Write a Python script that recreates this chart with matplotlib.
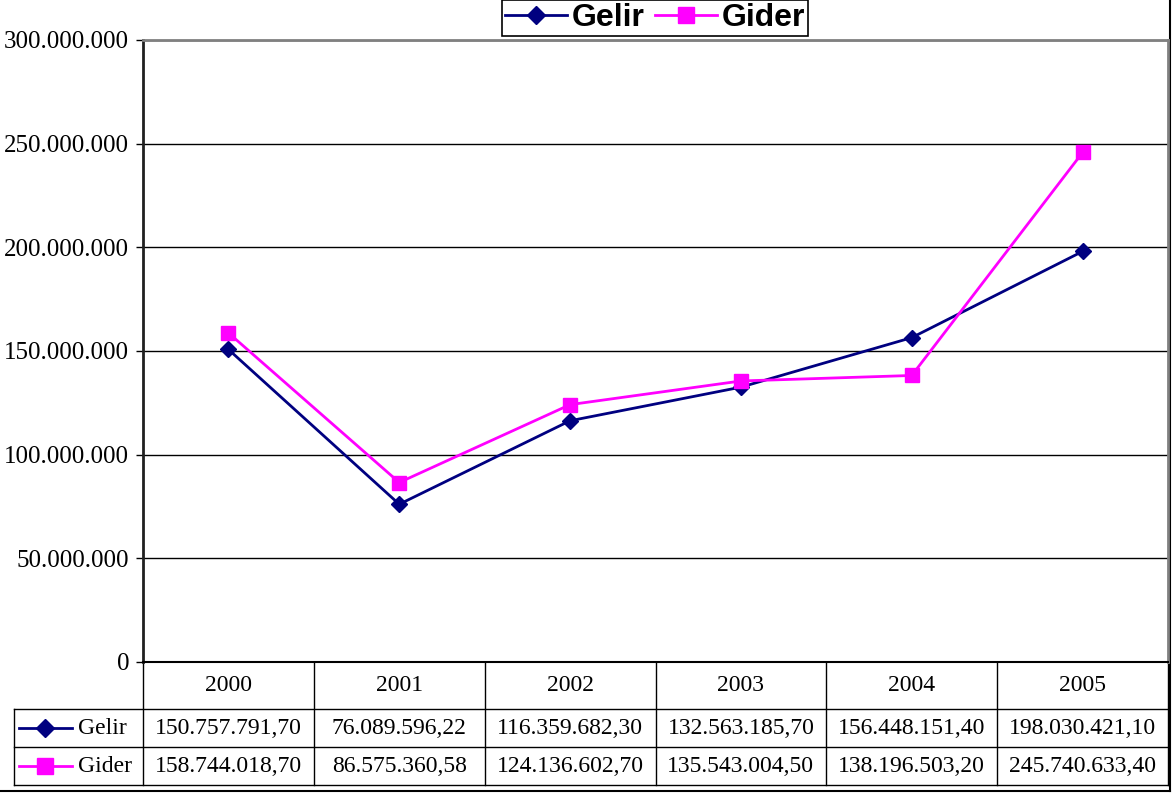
import matplotlib.pyplot as plt
from matplotlib.lines import Line2D
from matplotlib.ticker import FuncFormatter

years = ["2000", "2001", "2002", "2003", "2004", "2005"]
gelir = [150757791.70, 76089596.22, 116359682.30, 132563185.70, 156448151.40, 198030421.10]
gider = [158744018.70, 86575360.58, 124136602.70, 135543004.50, 138196503.20, 245740633.40]
series_names = ["Gelir", "Gider"]
y_ticks = [0, 50000000, 100000000, 150000000, 200000000, 250000000, 300000000]

W, H = 1173, 796
NAVY = "#000080"
MAGENTA = "#FF00FF"
SERIF = ["Liberation Serif", "DejaVu Serif"]


def tr_num(v, decimals=0):
    s = f"{v:,.{decimals}f}"
    return s.replace(",", "X").replace(".", ",").replace("X", ".")


fig = plt.figure(figsize=(W / 100, H / 100), dpi=100)

# plot area in pixels
px_l, px_r, px_t, px_b = 143, 1168, 40, 662
ax = fig.add_axes([px_l / W, 1 - px_b / H, (px_r - px_l) / W, (px_b - px_t) / H])
x = list(range(len(years)))
ax.plot(x, gelir, color=NAVY, lw=2, marker="D", ms=8, mfc=NAVY, mec=NAVY, zorder=3)
ax.plot(x, gider, color=MAGENTA, lw=2, marker="s", ms=10, mfc=MAGENTA, mec=MAGENTA, zorder=4)
ax.set_xlim(-0.5, len(years) - 0.5)
ax.set_ylim(0, 300000000)
ax.set_yticks(y_ticks)
ax.yaxis.set_major_formatter(FuncFormatter(lambda v, p: tr_num(v)))
ax.set_xticks([])
ax.yaxis.grid(True, color="black", lw=1)
ax.set_axisbelow(True)
ax.tick_params(axis="y", direction="out", length=5, width=1, pad=5, labelsize=18)
for lab in ax.get_yticklabels():
    lab.set_family(SERIF)
ax.spines["top"].set_color("#808080")
ax.spines["right"].set_color("#808080")
ax.spines["top"].set_linewidth(2)
ax.spines["right"].set_linewidth(2)
ax.spines["left"].set_linewidth(2)
ax.spines["left"].set_color("#202020")
ax.spines["bottom"].set_linewidth(1.5)

# overlay axes in pixel coordinates for the data table and frame
bg = fig.add_axes([0, 0, 1, 1], zorder=-1)
bg.set_xlim(0, W)
bg.set_ylim(H, 0)
bg.axis("off")

col_w = (px_r - px_l) / len(years)
row_edges = [662, 709, 747, 785]
tbl_left = 14
lc = "black"
for i in range(len(years) + 1):
    xx = px_l + i * col_w
    bg.plot([xx, xx], [row_edges[0], row_edges[-1]], color=lc, lw=1)
for yy in row_edges[1:]:
    bg.plot([tbl_left, px_r], [yy, yy], color=lc, lw=1)
bg.plot([tbl_left, tbl_left], [row_edges[1], row_edges[-1]], color=lc, lw=1)

for i, yr in enumerate(years):
    cx = px_l + (i + 0.5) * col_w
    bg.text(cx, (row_edges[0] + row_edges[1]) / 2, yr, ha="center", va="center",
            fontsize=17, family=SERIF)

rows = [(gelir, NAVY, "D", 9), (gider, MAGENTA, "s", 11)]
for r, (vals, col, mk, ms) in enumerate(rows):
    cy = (row_edges[r + 1] + row_edges[r + 2]) / 2
    bg.plot([19, 72], [cy, cy], color=col, lw=2)
    bg.plot([45], [cy], marker=mk, ms=ms, color=col)
    bg.text(78, cy, series_names[r], ha="left", va="center", fontsize=17, family=SERIF)
    for i, v in enumerate(vals):
        cx = px_l + (i + 0.5) * col_w
        bg.text(cx, cy, tr_num(v, 2), ha="center", va="center", fontsize=17, family=SERIF)

# outer chart frame (visible right and bottom edges)
bg.plot([0, 1170], [791, 791], color="black", lw=1.5)
bg.plot([1170, 1170], [0, 791], color="black", lw=1.5)

# legend at top
handles = [Line2D([], [], color=NAVY, lw=2, marker="D", ms=9),
           Line2D([], [], color=MAGENTA, lw=2, marker="s", ms=11)]
leg = fig.legend(handles, series_names, loc="upper center", bbox_to_anchor=(655 / W, 1.0),
                 ncol=2, frameon=True, fancybox=False, edgecolor="black", framealpha=1,
                 prop={"family": ["Liberation Sans", "DejaVu Sans"], "weight": "bold", "size": 23},
                 handlelength=1.95, handletextpad=0.15, columnspacing=0.3, borderpad=0.1,
                 borderaxespad=0)
leg.get_frame().set_linewidth(1.2)

fig.savefig("out.png", dpi=100)
